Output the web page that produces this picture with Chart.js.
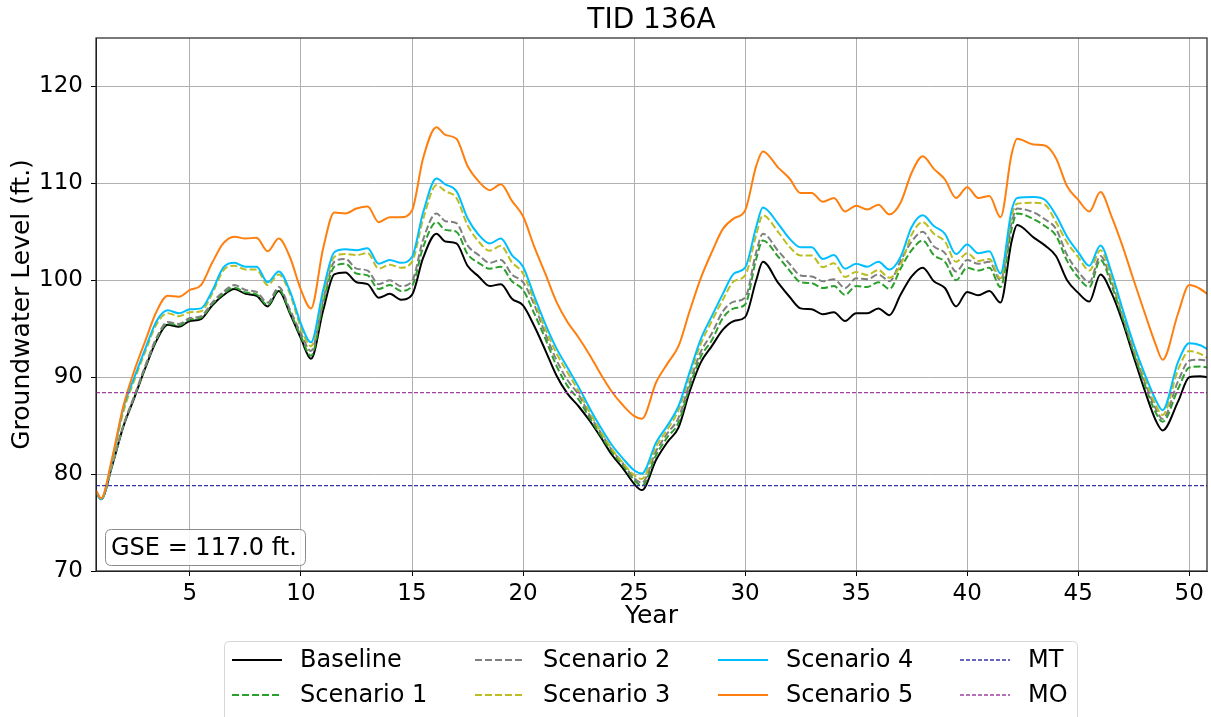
<!DOCTYPE html>
<html>
<head>
<meta charset="utf-8">
<title>TID 136A</title>
<script src="https://cdn.jsdelivr.net/npm/chart.js@4.4.0/dist/chart.umd.min.js"></script>
<style>
  html, body { margin: 0; padding: 0; background: #fff; }
  #wrap { width: 1211px; height: 717px; }
</style>
</head>
<body>
<div id="wrap"><canvas id="grafico" width="1211" height="717"></canvas></div>
<script>
// anos da simulacao (eixo x)
const anos = [
  0.77, 1.0, 1.5, 2.0, 2.5, 3.0, 3.5, 4.0, 4.5, 5.0,
  5.5, 6.0, 6.5, 7.0, 7.5, 8.0, 8.5, 9.0, 9.5, 10.0,
  10.45, 11.0, 11.5, 12.0, 12.5, 13.0, 13.5, 14.0, 14.5, 15.0,
  15.5, 16.1, 16.5, 17.0, 17.5, 18.0, 18.5, 19.0, 19.5, 20.0,
  20.5, 21.0, 21.5, 22.0, 22.5, 23.0, 23.5, 24.0, 24.5, 25.0,
  25.35, 26.0, 26.5, 27.0, 27.5, 28.0, 28.5, 29.0, 29.5, 30.0,
  30.5, 30.8, 31.5, 32.0, 32.5, 33.0, 33.5, 34.0, 34.5, 35.0,
  35.5, 36.0, 36.5, 37.0, 37.5, 38.0, 38.5, 39.0, 39.5, 40.0,
  40.5, 41.0, 41.5, 42.0, 42.25, 43.0, 43.5, 44.0, 44.5, 45.0,
  45.5, 46.0, 46.5, 47.0, 47.5, 48.0, 48.5, 48.8, 49.5, 50.0,
  50.5, 50.8
];

const baseline = [
  78.2, 77.4, 80.9, 84.9, 87.9, 91.0, 93.8, 95.4, 95.2, 95.8,
  96.0, 97.4, 98.45, 99.1, 98.6, 98.4, 97.3, 98.9, 96.6, 94.0,
  91.9, 96.9, 100.6, 100.8, 99.8, 99.6, 98.2, 98.6, 98.0, 98.5,
  102.3, 104.8, 104.0, 103.8, 101.5, 100.4, 99.4, 99.6, 98.1, 97.4,
  95.3, 92.8, 90.2, 88.3, 87.0, 85.5, 83.8, 82.0, 80.6, 79.0,
  78.35, 81.5, 83.3, 84.8, 88.5, 91.5, 93.2, 94.9, 95.8, 96.2,
  100.0, 101.9, 99.7, 98.3, 97.1, 97.0, 96.5, 96.7, 95.8, 96.6,
  96.6, 97.1, 96.4, 98.5, 100.4, 101.3, 99.9, 99.2, 97.3, 98.8,
  98.45, 98.9, 97.7, 104.0, 105.7, 104.4, 103.6, 102.5, 100.0, 98.7,
  97.8, 100.6, 98.7, 95.7, 92.1, 88.6, 85.5, 84.5, 87.5, 90.0,
  90.1, 90.0
];

const cenario1 = [
  78.2, 77.4, 80.9, 84.95, 88.0, 91.1, 93.95, 95.55, 95.35, 95.95,
  96.15, 97.55, 98.6, 99.25, 98.75, 98.55, 97.45, 99.05, 96.75, 94.2,
  92.2, 97.6, 101.4, 101.7, 100.7, 100.5, 99.1, 99.5, 98.9, 99.4,
  103.4, 106.0, 105.2, 105.0, 102.7, 101.8, 101.2, 101.4, 99.9, 99.0,
  96.6, 94.0, 91.2, 89.1, 87.7, 85.8, 84.0, 82.3, 80.9, 79.4,
  78.8, 82.0, 83.8, 85.3, 89.0, 92.1, 93.8, 96.1, 97.1, 97.5,
  102.2, 104.1, 102.4, 101.0, 99.8, 99.7, 99.2, 99.4, 98.5, 99.4,
  99.3, 99.8, 99.1, 101.2, 103.1, 104.1, 102.6, 101.9, 100.0, 101.3,
  101.0, 101.3, 99.3, 105.3, 106.9, 106.3, 105.6, 104.6, 102.0, 100.3,
  99.3, 102.1, 99.5, 96.1, 92.5, 89.2, 86.3, 85.4, 88.8, 91.0,
  91.1, 91.0
];

const cenario2 = [
  78.2, 77.4, 80.95, 85.0, 88.1, 91.25, 94.1, 95.7, 95.5, 96.1,
  96.3, 97.7, 98.8, 99.5, 99.0, 98.8, 97.7, 99.3, 97.0, 94.5,
  92.7, 98.0, 101.9, 102.2, 101.2, 101.0, 99.6, 100.0, 99.4, 99.9,
  104.2, 106.9, 106.1, 105.9, 103.6, 102.6, 101.8, 102.1, 100.6, 99.8,
  97.5, 94.5, 91.8, 89.7, 88.2, 86.1, 84.3, 82.5, 81.1, 79.6,
  79.1, 82.4, 84.2, 85.8, 89.4, 92.6, 94.5, 96.8, 97.8, 98.2,
  102.9, 104.8, 103.0, 101.7, 100.5, 100.4, 99.9, 100.1, 99.2, 100.2,
  100.1, 100.6, 99.9, 102.0, 104.0, 105.0, 103.5, 102.8, 100.9, 102.1,
  101.7, 101.9, 100.0, 105.9, 107.4, 107.0, 106.3, 105.3, 102.6, 100.9,
  99.8, 102.5, 99.9, 96.4, 92.8, 89.5, 86.7, 85.7, 89.6, 91.7,
  91.8, 91.7
];

const cenario3 = [
  78.2, 77.4, 81.3, 86.4, 89.7, 92.7, 95.5, 96.6, 96.3, 96.7,
  96.8, 98.6, 101.0, 101.5, 101.1, 101.1, 99.5, 100.6, 98.6, 95.1,
  93.2, 98.5, 102.4, 102.7, 102.6, 102.8, 101.2, 101.6, 101.3, 101.9,
  106.3, 109.8, 109.2, 108.5, 105.7, 104.0, 103.05, 103.55, 101.85, 100.7,
  97.9, 95.0, 92.5, 90.5, 88.55, 86.4, 84.4, 82.6, 81.15, 79.9,
  79.5, 82.9, 84.6, 86.6, 90.1, 93.4, 95.8, 98.0, 99.9, 100.5,
  104.7, 106.7, 104.95, 103.45, 102.55, 102.55, 101.35, 101.75, 100.35, 100.85,
  100.55, 101.05, 100.25, 101.55, 104.7, 106.0, 104.8, 104.0, 101.9, 102.8,
  102.0, 102.2, 100.2, 106.6, 107.9, 108.0, 107.8, 106.0, 103.9, 102.4,
  101.0, 103.1, 100.3, 96.7, 93.1, 89.9, 87.1, 86.1, 90.8, 92.7,
  92.4, 92.0
];

const cenario4 = [
  78.2, 77.4, 81.5, 86.8, 90.0, 93.0, 95.8, 96.9, 96.6, 97.0,
  97.1, 98.9, 101.3, 101.8, 101.4, 101.4, 99.8, 100.9, 98.9, 95.5,
  93.6, 99.0, 102.9, 103.2, 103.1, 103.3, 101.7, 102.1, 101.8, 102.4,
  107.0, 110.5, 109.9, 109.2, 106.4, 104.7, 103.8, 104.3, 102.6, 101.4,
  98.4, 95.5, 93.0, 91.0, 89.0, 86.8, 84.8, 83.0, 81.6, 80.4,
  80.07, 83.3, 85.0, 87.0, 90.5, 93.9, 96.3, 98.6, 100.7, 101.3,
  105.5, 107.5, 105.8, 104.3, 103.4, 103.4, 102.2, 102.6, 101.2, 101.7,
  101.4, 101.9, 101.1, 102.4, 105.5, 106.7, 105.6, 104.8, 102.7, 103.7,
  102.8, 103.0, 100.7, 107.2, 108.5, 108.6, 108.3, 106.7, 104.5, 102.9,
  101.5, 103.6, 100.8, 97.0, 93.4, 90.3, 87.6, 86.6, 91.6, 93.5,
  93.3, 92.9
];

const cenario5 = [
  78.3, 77.5, 81.7, 87.0, 90.7, 93.8, 96.8, 98.4, 98.3, 99.0,
  99.5, 101.8, 103.8, 104.5, 104.3, 104.4, 103.0, 104.3, 102.4, 99.0,
  97.1, 103.3, 107.0, 106.9, 107.4, 107.6, 106.0, 106.5, 106.5, 107.2,
  112.6, 115.8, 115.0, 114.6, 111.8, 110.2, 109.3, 109.9, 108.2, 106.6,
  103.5, 100.7, 97.8, 95.7, 94.1, 92.3, 90.3, 88.5, 87.1, 86.0,
  85.7, 89.5, 91.4, 93.2, 96.8, 100.2, 102.9, 105.3, 106.4, 107.2,
  111.8, 113.3, 111.6, 110.5, 109.0, 109.0, 108.1, 108.5, 107.1, 107.7,
  107.3, 107.8, 106.8, 108.0, 111.1, 112.8, 111.5, 110.4, 108.5, 109.6,
  108.5, 108.7, 106.5, 113.0, 114.6, 114.0, 113.9, 112.6, 109.7, 108.3,
  107.1, 109.1, 106.6, 103.5, 100.0, 96.6, 93.3, 91.8, 96.6, 99.5,
  99.1, 98.6
];

// limites MT / MO (linhas horizontais)
const limiteAnos = [0.77, 50.8];
const nivelMT = [78.8, 78.8];
const nivelMO = [88.4, 88.4];

const gse = 117.0;
const fonte = '"DejaVu Sans", "Liberation Sans", sans-serif';

function pontos(xs, ys) {
  var lista = [];
  for (var i = 0; i < xs.length; i++) {
    lista.push({ x: xs[i], y: ys[i] });
  }
  return lista;
}

function serie(label, valores, cor, tracejado, ordem) {
  return {
    label: label,
    data: pontos(anos, valores),
    borderColor: cor,
    backgroundColor: cor,
    borderWidth: 2,
    borderDash: tracejado ? [7, 3] : [],
    pointRadius: 0,
    cubicInterpolationMode: 'monotone',
    fill: false,
    order: ordem
  };
}

function limite(label, valores, cor, ordem) {
  return {
    label: label,
    data: pontos(limiteAnos, valores),
    borderColor: cor,
    backgroundColor: cor,
    borderWidth: 1.3,
    borderDash: [4, 2],
    pointRadius: 0,
    fill: false,
    order: ordem
  };
}

const datasets = [
  serie('Baseline', baseline, '#000000', false, 9),
  serie('Scenario 1', cenario1, '#2ca02c', true, 8),
  serie('Scenario 2', cenario2, '#7f7f7f', true, 7),
  serie('Scenario 3', cenario3, '#bcbd22', true, 6),
  serie('Scenario 4', cenario4, '#00bfff', false, 5),
  serie('Scenario 5', cenario5, '#ff7f0e', false, 4),
  limite('MT', nivelMT, '#3434a4', 3),
  limite('MO', nivelMO, '#a040a0', 2)
];

function caixaArredondada(ctx, x, y, w, h, r) {
  ctx.beginPath();
  ctx.moveTo(x + r, y);
  ctx.lineTo(x + w - r, y);
  ctx.quadraticCurveTo(x + w, y, x + w, y + r);
  ctx.lineTo(x + w, y + h - r);
  ctx.quadraticCurveTo(x + w, y + h, x + w - r, y + h);
  ctx.lineTo(x + r, y + h);
  ctx.quadraticCurveTo(x, y + h, x, y + h - r);
  ctx.lineTo(x, y + r);
  ctx.quadraticCurveTo(x, y, x + r, y);
  ctx.closePath();
}

// titulo, moldura, caixa GSE e legenda em 4 colunas
const extras = {
  id: 'extras',
  afterDraw(chart) {
    const ctx = chart.ctx;
    const area = chart.chartArea;
    ctx.save();

    ctx.strokeStyle = '#222';
    ctx.lineWidth = 1.2;
    ctx.setLineDash([]);
    ctx.strokeRect(area.left, area.top, area.right - area.left, area.bottom - area.top);

    ctx.fillStyle = '#000';
    ctx.font = '28px ' + fonte;
    ctx.textAlign = 'center';
    ctx.textBaseline = 'alphabetic';
    ctx.fillText('TID 136A', (area.left + area.right) / 2, 28);

    // caixa GSE
    caixaArredondada(ctx, 105.5, 529.5, 200, 36, 6);
    ctx.fillStyle = 'rgba(255,255,255,0.85)';
    ctx.fill();
    ctx.strokeStyle = '#8c8c8c';
    ctx.lineWidth = 1;
    ctx.stroke();
    ctx.fillStyle = '#000';
    ctx.font = '24px ' + fonte;
    ctx.textAlign = 'left';
    ctx.fillText('GSE = ' + gse.toFixed(1) + ' ft.', 111, 555);

    // legenda
    caixaArredondada(ctx, 224.5, 641.5, 853, 100, 5);
    ctx.fillStyle = '#fff';
    ctx.fill();
    ctx.strokeStyle = '#d6d6d6';
    ctx.stroke();

    const colunas = [300, 543, 786, 1028];
    const linhas = [660, 695];
    const porNome = {};
    chart.data.datasets.forEach(d => porNome[d.label] = d);
    const ordemLegenda = ['Baseline', 'Scenario 1', 'Scenario 2', 'Scenario 3',
      'Scenario 4', 'Scenario 5', 'MT', 'MO'];
    ctx.font = '24px ' + fonte;
    for (var i = 0; i < ordemLegenda.length; i++) {
      const d = porNome[ordemLegenda[i]];
      const cx = colunas[Math.floor(i / 2)];
      const cy = linhas[i % 2];
      ctx.beginPath();
      ctx.strokeStyle = d.borderColor;
      ctx.lineWidth = d.borderWidth;
      ctx.setLineDash(d.borderDash);
      ctx.moveTo(cx - 68, cy);
      ctx.lineTo(cx - 18, cy);
      ctx.stroke();
      ctx.setLineDash([]);
      ctx.fillStyle = '#000';
      ctx.textBaseline = 'middle';
      ctx.fillText(d.label, cx, cy + 1);
    }
    ctx.restore();
  }
};

const ctx = document.getElementById('grafico').getContext('2d');
const grafico = new Chart(ctx, {
  type: 'line',
  data: { datasets: datasets },
  plugins: [extras],
  options: {
    responsive: false,
    animation: false,
    devicePixelRatio: 1,
    events: [],
    layout: { padding: { top: 38, left: 0, right: 4, bottom: 86 } },
    plugins: {
      legend: { display: false },
      title: { display: false },
      tooltip: { enabled: false }
    },
    scales: {
      x: {
        type: 'linear',
        min: 0.77,
        max: 50.8,
        afterFit: function (scale) { scale.height = 60; },
        ticks: {
          stepSize: 5,
          includeBounds: false,
          color: '#000',
          padding: 4,
          maxRotation: 0,
          font: { family: fonte, size: 23 }
        },
        grid: { color: '#b0b0b0', lineWidth: 1, tickColor: '#000', tickLength: 5 },
        border: { display: true, color: '#222' },
        title: {
          display: true,
          text: 'Year',
          color: '#000',
          padding: 0,
          font: { family: fonte, size: 25 }
        }
      },
      y: {
        min: 70,
        max: 125,
        afterFit: function (scale) { scale.width = 96; },
        ticks: {
          stepSize: 10,
          includeBounds: false,
          color: '#000',
          padding: 8,
          font: { family: fonte, size: 23 }
        },
        grid: { color: '#b0b0b0', lineWidth: 1, tickColor: '#000', tickLength: 5 },
        border: { display: true, color: '#222' },
        title: {
          display: true,
          text: 'Groundwater Level (ft.)',
          color: '#000',
          padding: { top: 7, bottom: 0 },
          font: { family: fonte, size: 25 }
        }
      }
    }
  }
});
</script>
</body>
</html>
